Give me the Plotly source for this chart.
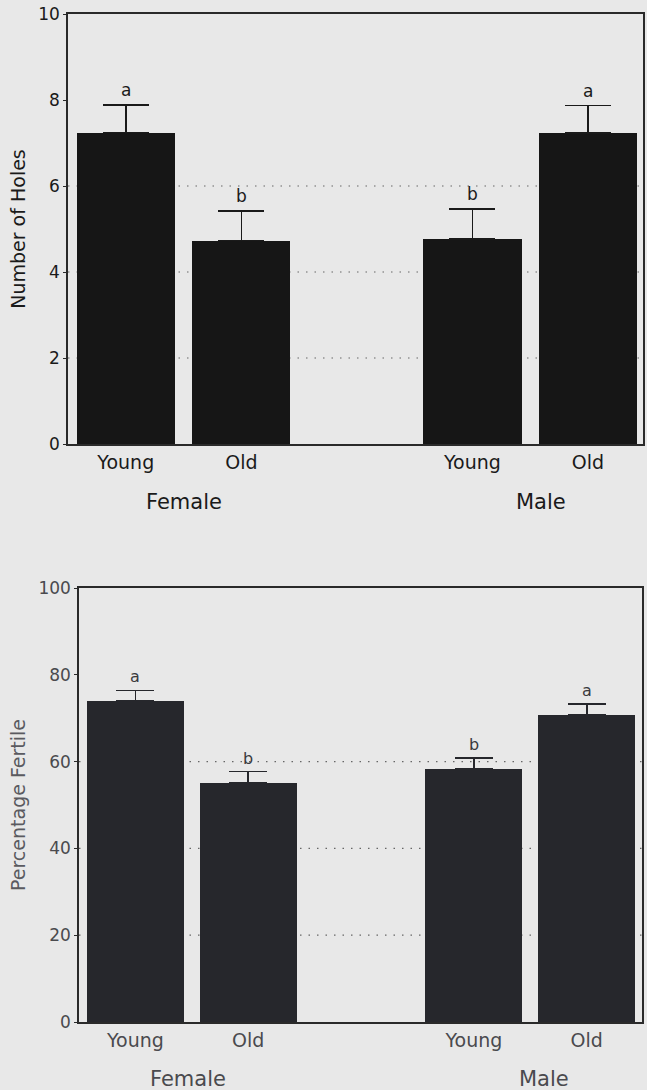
import plotly.graph_objects as go

# ---- data ----
categories = ["Young", "Old", "Young", "Old"]
groups = ["Female", "Male"]
positions = [0, 1, 3, 4]

holes_mean = [7.24, 4.73, 4.77, 7.23]
holes_err = [0.64, 0.69, 0.69, 0.64]
holes_letters = ["a", "b", "b", "a"]

fertile_mean = [73.9, 55.1, 58.4, 70.8]
fertile_err = [2.5, 2.6, 2.4, 2.5]
fertile_letters = ["a", "b", "b", "a"]

holes_ticks = [0, 2, 4, 6, 8, 10]
fertile_ticks = [0, 20, 40, 60, 80, 100]
holes_grid = [2, 4, 6]
fertile_grid = [20, 40, 60]

W, H = 647, 1090
BG = "#e8e8e8"
FONT = "DejaVu Sans"

fig = go.Figure()

# top panel
fig.add_trace(go.Bar(
    x=positions, y=holes_mean, width=0.85,
    marker=dict(color="#161616", line=dict(width=0)),
    error_y=dict(type="data", symmetric=False, array=holes_err,
                 arrayminus=[0] * len(holes_err),
                 color="#1a1a1a", thickness=1.6, width=23),
    xaxis="x", yaxis="y", showlegend=False,
))
# bottom panel
fig.add_trace(go.Bar(
    x=positions, y=fertile_mean, width=0.86,
    marker=dict(color="#26272c", line=dict(width=0)),
    error_y=dict(type="data", symmetric=False, array=fertile_err,
                 arrayminus=[0] * len(fertile_err),
                 color="#26272c", thickness=1.6, width=19),
    xaxis="x2", yaxis="y2", showlegend=False,
))

top_dom_y = [1 - 444 / H, 1 - 14 / H]
bot_dom_y = [1 - 1022 / H, 1 - 588 / H]

axis_common = dict(showgrid=False, zeroline=False, showline=True, automargin=False,
                   linecolor="#2a2a2a", linewidth=1.5, mirror=True)

fig.update_layout(
    width=W, height=H,
    margin=dict(l=0, r=0, t=0, b=0, autoexpand=False),
    paper_bgcolor=BG, plot_bgcolor=BG,
    font=dict(family=FONT, color="#1a1a1a"),
    bargap=0,
    xaxis=dict(domain=[68 / W, 643 / W], range=[-0.5, 4.476], anchor="y",
               tickmode="array", tickvals=positions, ticktext=categories,
               ticks="", tickfont=dict(size=19, color="#1a1a1a"), **axis_common),
    yaxis=dict(domain=top_dom_y, range=[0, 10], anchor="x",
               tickmode="array", tickvals=holes_ticks,
               ticks="outside", ticklen=3, tickcolor="#2a2a2a",
               tickfont=dict(size=17, color="#1a1a1a"),
               title=dict(text="Number of Holes", font=dict(size=19, color="#1a1a1a"),
                          standoff=8),
               **axis_common),
    xaxis2=dict(domain=[79 / W, 642 / W], range=[-0.5, 4.49], anchor="y2",
                tickmode="array", tickvals=positions, ticktext=categories,
                ticks="", tickfont=dict(size=19, color="#4a4a4e"), **axis_common),
    yaxis2=dict(domain=bot_dom_y, range=[0, 100], anchor="x2",
                tickmode="array", tickvals=fertile_ticks,
                ticks="outside", ticklen=3, tickcolor="#2a2a2a",
                tickfont=dict(size=17, color="#4a4a4e"),
                title=dict(text="Percentage Fertile", font=dict(size=19, color="#5a5a60"),
                           standoff=8),
                **axis_common),
)

shapes = []
for g in holes_grid:
    shapes.append(dict(type="line", xref="x domain", yref="y", x0=0, x1=1, y0=g, y1=g,
                       line=dict(color="#666666", width=1.2, dash="1.5px,7px"), layer="below"))
for g in fertile_grid:
    shapes.append(dict(type="line", xref="x2 domain", yref="y2", x0=0, x1=1, y0=g, y1=g,
                       line=dict(color="#666666", width=1.2, dash="1.5px,7px"), layer="below"))
fig.update_layout(shapes=shapes)

annotations = []
for xp, m, e, t in zip(positions, holes_mean, holes_err, holes_letters):
    annotations.append(dict(x=xp, y=m + e, xref="x", yref="y", text=t, showarrow=False,
                            yanchor="bottom", yshift=3,
                            font=dict(size=17, color="#1a1a1a")))
for xp, m, e, t in zip(positions, fertile_mean, fertile_err, fertile_letters):
    annotations.append(dict(x=xp, y=m + e, xref="x2", yref="y2", text=t, showarrow=False,
                            yanchor="bottom", yshift=2,
                            font=dict(size=16, color="#3a3a3e")))
# group labels
group_x_top = [0.5, 3.59]
group_x_bot = [0.47, 3.62]
for gx, g in zip(group_x_top, groups):
    annotations.append(dict(x=gx, xref="x", y=1 - 502 / H, yref="paper", text=g,
                            showarrow=False, yanchor="middle",
                            font=dict(size=21, color="#1a1a1a")))
for gx, g in zip(group_x_bot, groups):
    annotations.append(dict(x=gx, xref="x2", y=1 - 1079 / H, yref="paper", text=g,
                            showarrow=False, yanchor="middle",
                            font=dict(size=21, color="#4a4a4e")))
fig.update_layout(annotations=annotations)

fig.write_html("out.html")
